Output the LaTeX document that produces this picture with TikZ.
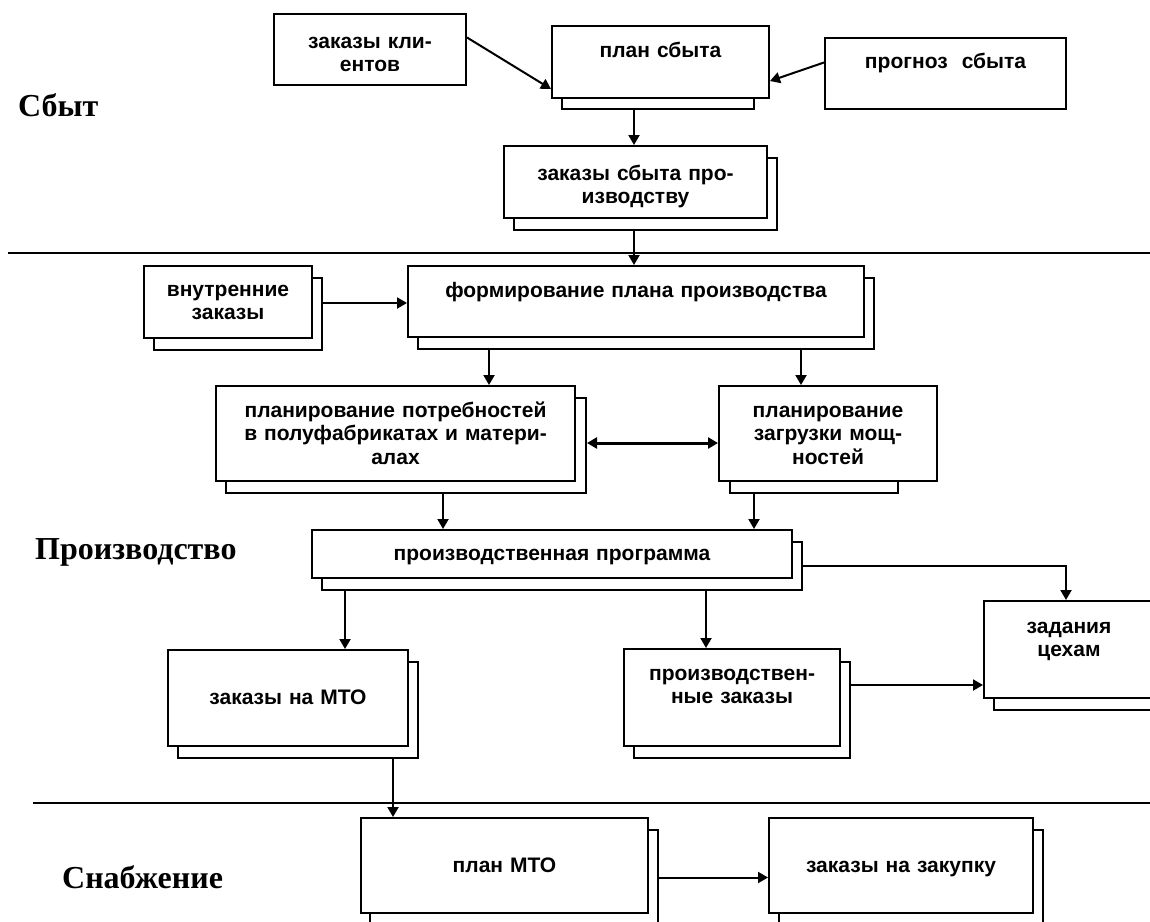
\documentclass[tikz,border=0pt]{standalone}
\usepackage{fontspec}
\setmainfont{Liberation Serif}
\newfontfamily\arial{Liberation Sans}
\usetikzlibrary{arrows.meta}

\begin{document}
\begin{tikzpicture}[x=1pt, y=-1pt]
\tikzset{edge/.style = {->,>={Triangle[length=10pt, width=11pt]}, line width=2pt}}
\tikzset{box/.style = {draw, fill=white, line width=2pt, inner sep=0pt, anchor=north west, align=center,
  font=\arial\bfseries\fontsize{21pt}{23.5pt}\selectfont}}
\tikzset{wbox/.style n args={3}{text width=#1pt, text height=#2pt, text depth=#3pt}}
\tikzset{sbox/.style 2 args={minimum width=#1pt, minimum height=#2pt}}
\tikzset{sect/.style = {anchor=base west, inner sep=0pt, font=\bfseries\fontsize{32pt}{36pt}\selectfont}}

\useasboundingbox (0,0) rectangle (1150,921);

% sections
\node[sect] (sbyt) at (18,116) {Сбыт};
\node[sect] (proizv) at (35,559) {Производство};
\node[sect] (snab) at (62,888) {Снабжение};
\draw[line width=2pt] (8,253) -- (1150,253);
\draw[line width=2pt] (33,803) -- (1150,803);

% sales
\node[box, wbox={192}{34}{37}] (klient) at (273,13) {заказы кли-\\ентов};
\node[box, sbox={192}{71}] (plan-s) at (561,37) {};
\node[box, wbox={217}{31}{41}] (plan) at (551,25) {план сбыта};
\node[box, wbox={241}{30}{41}] (prognoz) at (824,37) {прогноз\ \ сбыта};
\node[box, sbox={263}{72}] (zsb-s) at (513,157) {};
\node[box, wbox={263}{34}{38}] (zsb) at (503,145) {заказы сбыта про-\\изводству};

% production
\node[box, sbox={168}{72}] (vnutr-s) at (153,277) {};
\node[box, wbox={168}{30}{42}] (vnutr) at (143,265) {внутренние\\заказы};
\node[box, sbox={456}{71}] (form-s) at (417,277) {};
\node[box, wbox={456}{31}{40}] (form) at (407,265) {формирование плана производства};
\node[box, sbox={360}{95}] (pp-s) at (225,397) {};
\node[box, wbox={359}{31}{64}] (pp) at (215,385) {планирование потребностей\\в полуфабрикатах и матери-\\алах};
\node[box, sbox={168}{95}] (pz-s) at (729,397) {};
\node[box, wbox={218}{31}{64}] (pz) at (718,385) {планирование\\загрузки мощ-\\ностей};
\node[box, sbox={480}{48}] (prog-s) at (321,541) {};
\node[box, wbox={480}{30}{18}] (prog) at (311,529) {производственная программа};
\node[box, sbox={240}{96}] (zmto-s) at (177,661) {};
\node[box, wbox={240}{54}{42}] (zmto) at (167,649) {заказы на МТО};
\node[box, sbox={216}{96}] (pzak-s) at (633,661) {};
\node[box, wbox={216}{31}{66}] (pzak) at (623,648) {производствен-\\ные заказы};
\node[box, sbox={170}{97}] (zad-s) at (993,612) {};
\node[box, wbox={170}{32}{65}] (zad) at (983,600) {задания\\цехам};

% supply
\node[box, sbox={288}{95}] (plmto-s) at (369,829) {};
\node[box, wbox={287}{54}{41}] (plmto) at (360,817) {план МТО};
\node[box, sbox={264}{95}] (zzak-s) at (778,829) {};
\node[box, wbox={264}{54}{41}] (zzak) at (768,817) {заказы на закупку};

\draw[edge] ([yshift=12pt]klient.east) -- ([yshift=-27pt]plan.west);
\draw[edge] ([yshift=11pt]prognoz.west) -- ([yshift=-19pt]plan.east);
\draw[edge] ([xshift=-24pt]plan-s.south) -- ([xshift=-24pt]plan-s.south |- zsb.north);
\draw[edge] ([xshift=-11.5pt]zsb-s.south) -- ([xshift=-11.5pt]zsb-s.south |- form.north);
\draw[edge] ([yshift=11pt]vnutr-s.east) -- ([yshift=11pt]vnutr-s.east -| form.west);
\draw[edge] ([xshift=-157pt]form-s.south) -- ([xshift=-157pt]form-s.south |- pp.north);
\draw[edge] ([xshift=155pt]form-s.south) -- ([xshift=155pt]form-s.south |- pz.north);
\draw[edge, <->, line width=3pt] ([yshift=2.5pt]pp-s.east) -- ([yshift=2.5pt]pp-s.east -| pz.west);
\draw[edge] ([xshift=37pt]pp-s.south) -- ([xshift=37pt]pp-s.south |- prog.north);
\draw[edge] ([xshift=-60pt]pz-s.south) -- ([xshift=-60pt]pz-s.south |- prog.north);
\draw[edge] ([xshift=-217pt]prog-s.south) -- ([xshift=-217pt]prog-s.south |- zmto.north);
\draw[edge] ([xshift=144pt]prog-s.south) -- ([xshift=144pt]prog-s.south |- pzak.north);
\draw[edge] (prog-s.east) -| ([xshift=-3pt]zad.north);
\draw[edge] ([yshift=25pt]pzak-s.east) -- ([yshift=25pt]pzak-s.east -| zad.west);
\draw[edge] ([xshift=95pt]zmto-s.south) -- ([xshift=95pt]zmto-s.south |- plmto.north);
\draw[edge] (plmto-s.east) -- (plmto-s.east -| zzak.west);
\end{tikzpicture}
\end{document}
